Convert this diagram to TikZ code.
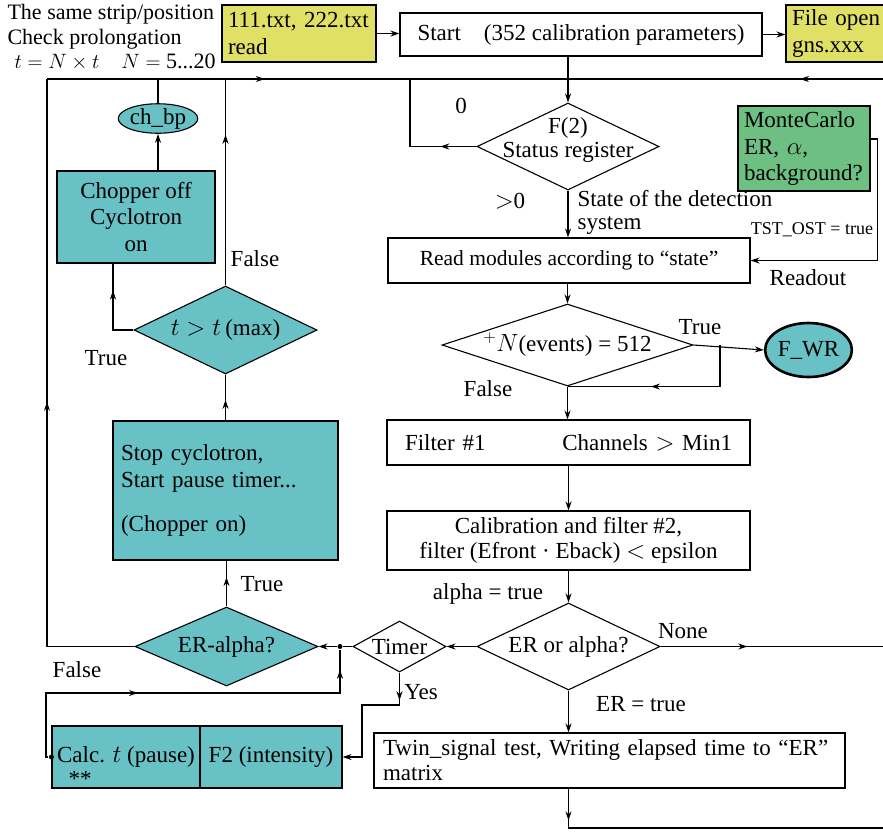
\documentclass[tikz,border=0pt]{standalone}
\usepackage{fontspec}
\setmainfont{Liberation Serif}
\usetikzlibrary{shapes.geometric,arrows.meta,decorations.markings}
\definecolor{tealfill}{RGB}{104,193,197}
\definecolor{yelfill}{RGB}{224,224,102}
\definecolor{grnfill}{RGB}{110,192,130}

\begin{document}
\begin{tikzpicture}[x=1pt,y=-1pt,line width=1.1pt,
    font=\fontsize{23}{26.5}\selectfont,
    >={Stealth[length=9pt,width=6pt]},
    box/.style={draw,rectangle,inner sep=0pt,align=center},
    dia/.style={draw,diamond,inner sep=0pt},
    txt/.style={inner sep=0pt,align=center},
    dotn/.style={circle,fill,inner sep=0pt,minimum size=5pt},
    arrowat/.style={postaction={decorate,decoration={markings,mark=at position #1 with {\arrow{>}}}}}]
    \useasboundingbox (0,0) rectangle (883,831);

    \node[txt,align=left,anchor=north west,font=\fontsize{22}{24.5}\selectfont] (note) at (7,4) {The same strip/position\\Check prolongation\\\hspace*{7pt}$t = N \times t\quad N =$ 5...20};
    \node[box,fill=yelfill,minimum width=154,minimum height=57,text width=142,align=left] (rd) at (299,33.5) {111.txt, 222.txt\\read};
    \node[box,minimum width=362,minimum height=43] (start) at (581,34.5) {Start\quad(352 calibration parameters)};
    \node[box,fill=yelfill,minimum width=114,minimum height=57,text width=102,align=left] (fopen) at (843,33.5) {File open\\gns.xxx};

    \node[dia,minimum width=182,minimum height=87] (f2) at (568,146.5) {};
    \node[txt,font=\fontsize{23}{23.5}\selectfont] (f2t) at (568,140) {F(2)\\Status register};
    \node[box,fill=grnfill,minimum width=132,minimum height=85,text width=120,align=left] (mc) at (804,148.5) {MonteCarlo\\ER, $\alpha$,\\background?};
    \node[box,minimum width=362,minimum height=45,font=\fontsize{21.5}{24}\selectfont] (rm) at (569,260.5) {Read modules according to “state”};

    \node[dia,minimum width=251,minimum height=82] (nev) at (567.5,345) {};
    \node[txt] (nevt) at (nev) {$^{+}N$(events) = 512};
    \node[draw,ellipse,line width=2.6pt,fill=tealfill,minimum width=77,minimum height=54,inner sep=0pt] (fwr) at (808.5,350) {F\_WR};
    \node[box,minimum width=363,minimum height=45,text width=327,align=left] (filt) at (568.5,442.5) {Filter \#1\hfill Channels $>$ Min1};
    \node[box,minimum width=363,minimum height=59,font=\fontsize{23}{25}\selectfont] (calib) at (568.5,540.5) {Calibration and filter \#2,\\filter (Efront · Eback) $<$ epsilon};

    \node[dia,minimum width=183,minimum height=87] (eoa) at (568.5,646.5) {};
    \node[txt] (eoat) at (eoa) {ER or alpha?};
    \node[dia,minimum width=93,minimum height=51] (tim) at (399.5,646.5) {};
    \node[txt] (timt) at (tim) {Timer};
    \node[dia,fill=tealfill,minimum width=183,minimum height=79] (era) at (226.5,646.5) {};
    \node[txt] (erat) at (era) {ER-alpha?};
    \node[dotn] (jn) at (340,646.5) {};
    \node[box,minimum width=471,minimum height=55,text width=453,align=left,font=\fontsize{23}{25}\selectfont] (twin) at (609.5,760.5) {Twin\_signal test, Writing elapsed time to “ER”\\matrix};

    \node[box,fill=tealfill,minimum width=148,minimum height=62] (calc) at (126,757) {Calc. $t$ (pause)};
    \node[box,fill=tealfill,minimum width=142,minimum height=62] (f2i) at (271,757) {F2 (intensity)};
    \node[txt] (stars) at (80,779) {**};
    \node[dotn] (cdot) at (calc.west) {};

    \node[box,fill=tealfill,minimum width=225,minimum height=139,text width=209,align=left] (stop) at (225.5,490.5) {Stop cyclotron,\\Start pause timer...\\[18pt](Chopper on)};
    \node[dia,fill=tealfill,minimum width=183,minimum height=88] (tmax) at (225.5,330) {};
    \node[txt] (tmaxt) at (tmax) {$t > t\,$(max)};
    \node[box,fill=tealfill,minimum width=158,minimum height=92] (chop) at (136,217) {Chopper off\\Cyclotron\\on};
    \node[draw,ellipse,fill=tealfill,inner sep=0pt,minimum width=76,minimum height=29] (chbp) at (158,118.5) {ch\_bp};

    \coordinate (busL) at (47,79);
    \coordinate (busA) at (158,79);
    \coordinate (busB) at (225.5,79);
    \coordinate (busC) at (410,79);
    \coordinate (busR) at (895,79);
    \coordinate (lp) at (720,345);
    \coordinate (noneR) at (895,646.5);
    \coordinate (botR) at (895,828);
    \coordinate (tT) at (113,330);
    \coordinate (cl) at (46,693);
    \coordinate (ty) at (362,705);

    \draw[->] (rd.east) -- (rd.east -| start.west);
    \draw[->] (start.east) -- (start.east -| fopen.west);
    \draw[->] (f2.north |- start.south) -- (f2.north);
    \draw[arrowat=0.6] (busL) -- (busC);
    \draw[arrowat=0.196] (busR) -- (busC);
    \draw[arrowat=0.27] (f2.west) -- (f2.west -| busC) -- (busC);
    \draw[->] (f2.south) -- (f2.south |- rm.north);
    \draw[->] ([yshift=9.5pt]mc.east) -- ++(7,0) |- (rm.east);
    \draw[->] (nev.north |- rm.south) -- (nev.north);
    \draw[->] (nev.east) -- (fwr.west);
    \draw[arrowat=0.57] (lp) |- (nev.south);
    \draw[->] (nev.south) -- (nev.south |- filt.north);
    \draw[->] (filt.south) -- (calib.north);
    \draw[->] (calib.south) -- (eoa.north);
    \draw[->] (eoa.west) -- (tim.east);
    \draw (tim.west) -- (jn);
    \draw[->] (jn) -- (era.east);
    \draw[arrowat=0.37] (eoa.east) -- (noneR);
    \draw[->] (eoa.south) -- (eoa.south |- twin.north);
    \draw[arrowat=0.087] (eoa.south |- twin.south) |- (botR);
    \draw[arrowat=0.507] (era.west) -| (busL);
    \draw[arrowat=0.64] (era.north) -- (era.north |- stop.south);
    \draw[arrowat=0.45] (stop.north) -- (tmax.south);
    \draw[arrowat=0.73] (tmax.north) -- (busB);
    \draw[arrowat=0.69] (tmax.west) -- (tT) -- (tT |- chop.south);
    \draw[->] (chbp.south |- chop.north) -- (chbp.south);
    \draw (chbp.north) -- (busA);
    \draw[arrowat=0.392,arrowat=0.95] (cdot) -| (cl) -| (jn);
    \draw[->,arrowat=0.196] (tim.south) |- (ty) |- (f2i.east);

    \node[txt] (l0) at (461,106) {0};
    \node[txt] (lgt) at (510,201) {$>$0};
    \node[txt,align=left,anchor=north west,font=\fontsize{23}{22.5}\selectfont] (lstate) at (577,190) {State of the detection\\system};
    \node[txt,font=\fontsize{18}{20}\selectfont] (ltst) at (812,230) {TST\_OST = true};
    \node[txt] (lread) at (808,278) {Readout};
    \node[txt] (ltrue1) at (700,327) {True};
    \node[txt] (lfalse1) at (488,389) {False};
    \node[txt] (lalpha) at (488,594) {alpha = true};
    \node[txt] (lnone) at (683,631) {None};
    \node[txt] (ler) at (641,704) {ER = true};
    \node[txt] (lyes) at (421,692) {Yes};
    \node[txt] (lfalse2) at (77,670) {False};
    \node[txt] (ltrue2) at (262,584) {True};
    \node[txt] (ltrue3) at (106,358) {True};
    \node[txt] (lfalse3) at (255,259) {False};
\end{tikzpicture}
\end{document}
